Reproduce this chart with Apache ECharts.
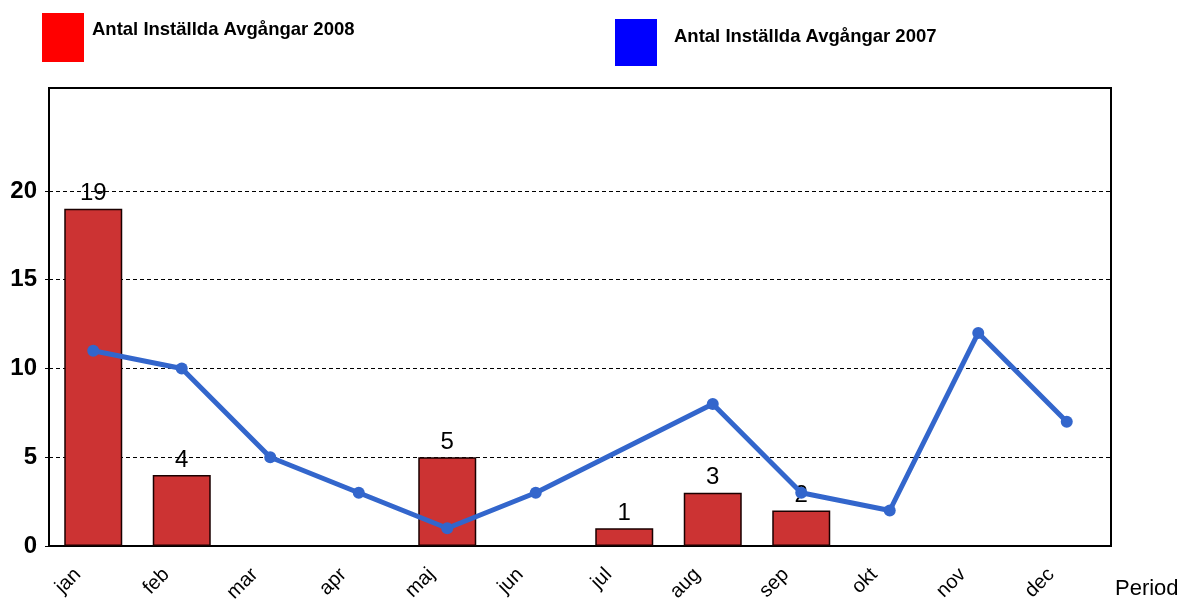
<!DOCTYPE html>
<html>
<head>
<meta charset="utf-8">
<script src="https://cdn.jsdelivr.net/npm/echarts@6/dist/echarts.min.js"></script>
<style>
  html, body { margin: 0; padding: 0; background: #fff; }
  #chart { width: 1185px; height: 601px; }
</style>
</head>
<body>
<div id="chart"></div>
<script>
// data
var months = ['jan', 'feb', 'mar', 'apr', 'maj', 'jun', 'jul', 'aug', 'sep', 'okt', 'nov', 'dec'];
var avg2008 = [19, 4, null, null, 5, null, 1, 3, 2, null, null, null];
var avg2007 = [11, 10, 5, 3, 1, 3, null, 8, 3, 2, 12, 7];
var yTicks = [0, 5, 10, 15, 20];

var name2008 = 'Antal Inställda Avgångar 2008';
var name2007 = 'Antal Inställda Avgångar 2007';

var myChart = echarts.init(document.getElementById('chart'));

function legendText(padBottom, padLeft) {
  return {
    fontFamily: 'Liberation Sans, Arial, sans-serif',
    fontSize: 18.5,
    fontWeight: 'bold',
    color: '#000',
    rich: {
      t: {
        fontFamily: 'Liberation Sans, Arial, sans-serif',
        fontSize: 18.5,
        fontWeight: 'bold',
        color: '#000',
        padding: [0, 0, padBottom, padLeft]
      }
    }
  };
}

var option = {
  backgroundColor: '#fff',
  animation: false,
  textStyle: { fontFamily: 'Liberation Sans, Arial, sans-serif' },
  legend: [
    {
      left: 37, top: 8,
      icon: 'rect',
      itemWidth: 42, itemHeight: 49,
      formatter: '{t|{name}}',
      data: [{ name: name2008, itemStyle: { color: '#ff0000', borderWidth: 0 } }],
      textStyle: legendText(15, 3)
    },
    {
      left: 610, top: 14,
      icon: 'rect',
      itemWidth: 42, itemHeight: 47,
      formatter: '{t|{name}}',
      data: [{ name: name2007, itemStyle: { color: '#0000ff', borderWidth: 0 } }],
      textStyle: legendText(11, 12)
    }
  ],
  grid: {
    left: 49, right: 74, top: 88, bottom: 55,
    outerBoundsMode: 'none',
    containLabel: false,
    show: true,
    borderColor: '#000',
    borderWidth: 2,
    backgroundColor: 'transparent'
  },
  xAxis: {
    type: 'category',
    data: months,
    name: 'Period',
    nameLocation: 'end',
    nameGap: 4,
    nameTextStyle: { fontSize: 22, color: '#000', verticalAlign: 'top', padding: [32, 0, 0, 0] },
    axisLine: { lineStyle: { color: '#000', width: 2 } },
    axisTick: { show: false },
    axisLabel: { rotate: 45, fontSize: 20, color: '#000', margin: 10, padding: [0, 22, 0, 0] }
  },
  yAxis: {
    type: 'value',
    min: 0,
    max: 25.8,
    interval: 5,
    axisLine: { show: true, lineStyle: { color: '#000', width: 2 } },
    axisTick: { show: true, length: 4, customValues: yTicks, lineStyle: { color: '#000', width: 1 } },
    axisLabel: {
      fontSize: 24, fontWeight: 'bold', color: '#000', margin: 12,
      customValues: yTicks
    },
    splitLine: {
      show: true,
      lineStyle: {
        type: [4, 3],
        width: 1,
        color: ['#000', '#000', '#000', '#000', '#000', 'transparent', 'transparent']
      }
    }
  },
  series: [
    {
      name: name2008,
      type: 'bar',
      data: avg2008,
      barWidth: 58,
      itemStyle: { color: '#cc3333', borderColor: '#1a0000', borderWidth: 1.5 },
      label: { show: true, position: 'top', distance: 3, fontSize: 24, color: '#000' }
    },
    {
      name: name2007,
      type: 'line',
      data: avg2007,
      connectNulls: true,
      symbol: 'circle',
      symbolSize: 12,
      lineStyle: { color: '#3366cc', width: 5 },
      itemStyle: { color: '#3366cc' }
    }
  ]
};

myChart.setOption(option);
window.onresize = function () {
  myChart.resize();
};
</script>
</body>
</html>
